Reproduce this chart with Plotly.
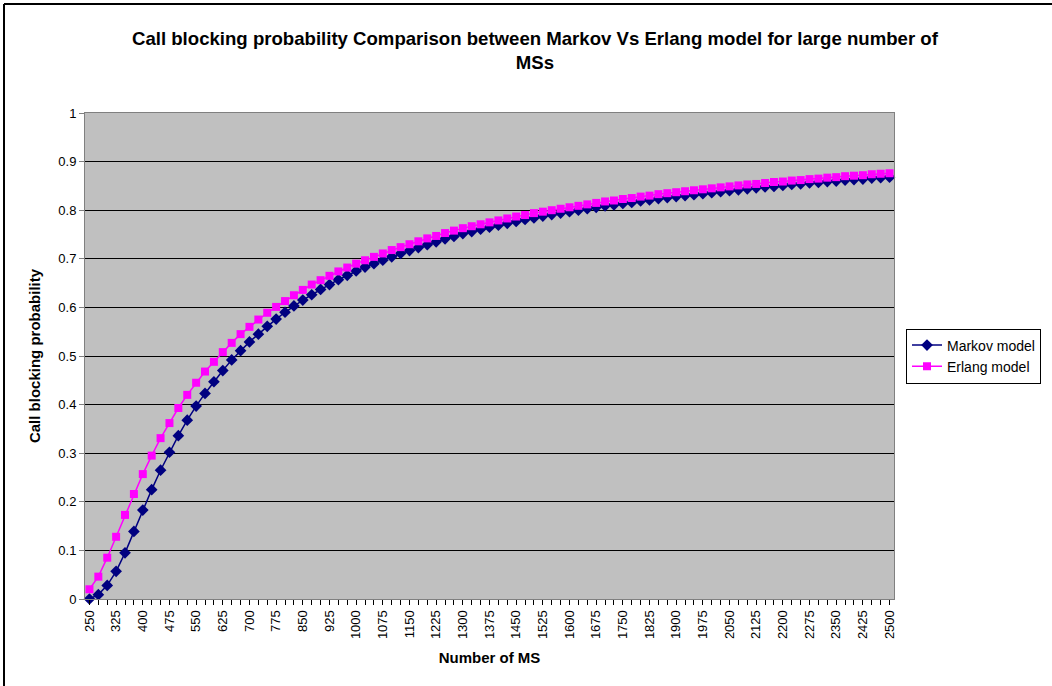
import plotly.graph_objects as go

# number of MSs on the x axis (one category every 25)
ms_counts = list(range(250, 2501, 25))

markov = [
    0.000, 0.009, 0.028, 0.057, 0.095, 0.139, 0.183, 0.225, 0.265, 0.302,
    0.336, 0.368, 0.397, 0.423, 0.447, 0.470, 0.492, 0.511, 0.529, 0.545,
    0.561, 0.576, 0.590, 0.603, 0.615, 0.626, 0.637, 0.647, 0.657, 0.666,
    0.675, 0.683, 0.690, 0.697, 0.704, 0.711, 0.717, 0.723, 0.729, 0.735,
    0.741, 0.746, 0.752, 0.756, 0.761, 0.765, 0.769, 0.773, 0.777, 0.781,
    0.784, 0.788, 0.791, 0.794, 0.797, 0.800, 0.803, 0.806, 0.809, 0.811,
    0.814, 0.816, 0.819, 0.821, 0.824, 0.826, 0.828, 0.830, 0.832, 0.834,
    0.836, 0.838, 0.840, 0.842, 0.844, 0.846, 0.848, 0.849, 0.851, 0.853,
    0.854, 0.856, 0.857, 0.859, 0.860, 0.862, 0.863, 0.864, 0.866, 0.867,
    0.868,
]

erlang = [
    0.020, 0.046, 0.085, 0.128, 0.173, 0.216, 0.257, 0.295, 0.331, 0.362,
    0.393, 0.420, 0.445, 0.468, 0.488, 0.508, 0.527, 0.545, 0.560, 0.575,
    0.589, 0.601, 0.613, 0.625, 0.636, 0.647, 0.656, 0.665, 0.674, 0.682,
    0.690, 0.697, 0.704, 0.711, 0.718, 0.724, 0.730, 0.736, 0.742, 0.747,
    0.753, 0.758, 0.763, 0.767, 0.771, 0.775, 0.779, 0.783, 0.787, 0.790,
    0.794, 0.797, 0.800, 0.803, 0.806, 0.809, 0.812, 0.815, 0.818, 0.820,
    0.823, 0.825, 0.828, 0.830, 0.833, 0.835, 0.837, 0.839, 0.841, 0.843,
    0.845, 0.847, 0.849, 0.851, 0.853, 0.854, 0.856, 0.858, 0.859, 0.861,
    0.862, 0.864, 0.865, 0.867, 0.868, 0.870, 0.871, 0.872, 0.874, 0.875,
    0.876,
]

x_ticks = list(range(250, 2501, 75))

FONT = "Liberation Sans, Arial, sans-serif"
W, H = 1052, 686
L, R, T, B = 85, 894, 113, 599  # plot area in pixels


def px_x(p):
    return (p - L) / (R - L)


def px_y(p):
    return (B - p) / (B - T)


fig = go.Figure()
fig.add_trace(go.Scatter(
    x=ms_counts, y=markov, name="Markov model", mode="lines+markers",
    line=dict(color="#000080", width=1.5),
    marker=dict(symbol="diamond", size=9, color="#000080"),
    cliponaxis=False,
))
fig.add_trace(go.Scatter(
    x=ms_counts, y=erlang, name="Erlang model", mode="lines+markers",
    line=dict(color="#FF00FF", width=1.5),
    marker=dict(symbol="square", size=8, color="#FF00FF"),
    cliponaxis=False,
))

fig.update_layout(
    width=W, height=H,
    margin=dict(l=L, r=W - R, t=T, b=H - B, autoexpand=False),
    paper_bgcolor="white", plot_bgcolor="#C0C0C0",
    font=dict(family=FONT, size=13, color="black"),
    showlegend=True,
    legend=dict(
        x=px_x(906), y=px_y(356), xanchor="left", yanchor="middle",
        bordercolor="black", borderwidth=1, bgcolor="white",
        font=dict(size=14), tracegroupgap=0, itemwidth=30,
    ),
)

fig.update_xaxes(
    range=[237.5, 2512.5], tickvals=x_ticks, ticktext=[str(v) for v in x_ticks],
    tickangle=-90, ticks="outside", ticklen=5, tickcolor="black",
    minor=dict(dtick=25, tick0=250, ticks="outside", ticklen=5, tickcolor="black", showgrid=False),
    showgrid=False, zeroline=False,
    showline=True, linecolor="#808080", mirror=True, linewidth=1,
    tickfont=dict(size=13),
    title=dict(text="<b>Number of MS</b>", font=dict(size=15), standoff=14),
)
fig.update_yaxes(
    range=[0, 1], dtick=0.1, ticks="outside", ticklen=5, tickcolor="#808080",
    showgrid=True, gridcolor="black", gridwidth=1,
    zeroline=True, zerolinecolor="black", zerolinewidth=1,
    showline=True, linecolor="#808080", mirror=True, linewidth=1,
    tickfont=dict(size=13),
    title=dict(text="<b>Call blocking probability</b>", font=dict(size=15), standoff=14),
)

fig.add_annotation(
    xref="paper", yref="paper", x=px_x(535), y=px_y(50),
    text="<b>Call blocking probability Comparison between Markov Vs Erlang model for large number of<br>MSs</b>",
    showarrow=False, xanchor="center", yanchor="middle",
    font=dict(size=18.6, family=FONT), align="center",
)

# chart frame (left and top edges)
for x0, y0, x1, y1 in [(4, 4, 4, 700), (4, 4, 1060, 4)]:
    fig.add_shape(
        type="line", xref="paper", yref="paper",
        x0=px_x(x0), y0=px_y(y0), x1=px_x(x1), y1=px_y(y1),
        line=dict(color="black", width=2),
    )

fig.write_html(
    "out.html",
    config={"displayModeBar": False},
    post_script="document.body.style.margin='0';",
)
